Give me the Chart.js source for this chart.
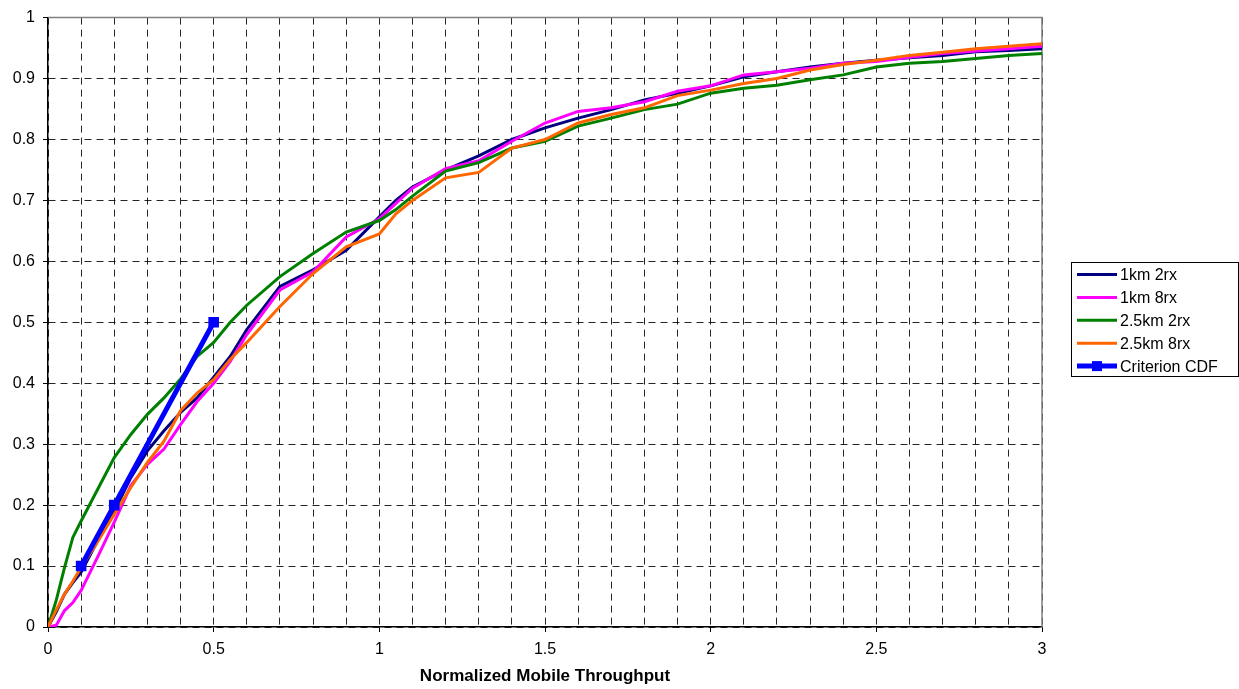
<!DOCTYPE html>
<html>
<head>
<meta charset="utf-8">
<script src="https://cdn.jsdelivr.net/npm/chart.js@4.4.1/dist/chart.umd.min.js"></script>
<style>
    html, body { margin: 0; padding: 0; background: #fff; }
    #wrap { width: 1239px; height: 689px; position: relative; }
</style>
</head>
<body>
<div id="wrap"><canvas id="cdfChart"></canvas></div>
<script>
// =======================
//  DATA
// =======================

// throughput values where the four measured curves were read
const throughput = [0, 0.025, 0.05, 0.075, 0.1, 0.15, 0.2, 0.25, 0.3, 0.35, 0.4, 0.45, 0.5, 0.55, 0.6,
    0.7, 0.8, 0.9, 1.0, 1.05, 1.1, 1.2, 1.3, 1.4, 1.5, 1.6, 1.7, 1.8, 1.9, 2.0,
    2.1, 2.2, 2.3, 2.4, 2.5, 2.6, 2.7, 2.8, 2.9, 3.0];

const cdf1km2rx = [0, 0.025, 0.054, 0.073, 0.09, 0.142, 0.19, 0.245, 0.289, 0.322, 0.352, 0.376, 0.41, 0.444, 0.488,
    0.559, 0.586, 0.618, 0.673, 0.70, 0.722, 0.75, 0.773, 0.80, 0.819, 0.835, 0.849, 0.865, 0.876, 0.888,
    0.903, 0.911, 0.919, 0.925, 0.930, 0.934, 0.938, 0.944, 0.946, 0.949];

const cdf1km8rx = [0, 0.003, 0.027, 0.04, 0.06, 0.115, 0.172, 0.232, 0.267, 0.292, 0.332, 0.37, 0.40, 0.436, 0.48,
    0.553, 0.583, 0.64, 0.67, 0.695, 0.72, 0.752, 0.765, 0.797, 0.827, 0.846, 0.852, 0.862, 0.879, 0.888,
    0.906, 0.911, 0.917, 0.925, 0.928, 0.935, 0.941, 0.945, 0.949, 0.953];

const cdf25km2rx = [0, 0.044, 0.098, 0.147, 0.174, 0.226, 0.278, 0.316, 0.349, 0.376, 0.407, 0.444, 0.467, 0.50, 0.528,
    0.575, 0.613, 0.648, 0.667, 0.685, 0.707, 0.748, 0.762, 0.786, 0.797, 0.822, 0.835, 0.849, 0.858, 0.876,
    0.884, 0.889, 0.898, 0.906, 0.919, 0.925, 0.928, 0.933, 0.938, 0.941];

const cdf25km8rx = [0, 0.028, 0.054, 0.075, 0.098, 0.14, 0.185, 0.229, 0.27, 0.305, 0.355, 0.384, 0.406, 0.439, 0.467,
    0.526, 0.58, 0.624, 0.645, 0.678, 0.70, 0.737, 0.746, 0.786, 0.80, 0.827, 0.841, 0.852, 0.872, 0.881,
    0.892, 0.900, 0.914, 0.923, 0.930, 0.938, 0.943, 0.949, 0.953, 0.957];

// criterion points (squares)
const criterionX = [0.1, 0.2, 0.5];
const criterionY = [0.1, 0.2, 0.5];

const seriesNames = ["1km 2rx", "1km 8rx", "2.5km 2rx", "2.5km 8rx", "Criterion CDF"];
const seriesColors = ["#000080", "#ff00ff", "#008000", "#ff6600", "#0000ff"];

// labelled x ticks (grid every 0.1)
const xTickLabels = ["0", "0.5", "1", "1.5", "2", "2.5", "3"];
const yTickLabels = ["0", "0.1", "0.2", "0.3", "0.4", "0.5", "0.6", "0.7", "0.8", "0.9", "1"];

const FONT = "'Liberation Sans', Arial, sans-serif";

function toPoints(xs, ys) {
    return xs.map((x, i) => ({ x: x, y: ys[i] }));
}

function isMajorX(v) {
    return xTickLabels.includes(String(Math.round(v * 10) / 10));
}

// ===================================================
// legend with a box, right side
// ===================================================
const legendBox = {
    id: "legendBox",
    afterDraw(chart) {
        const ctx = chart.ctx;
        const left = 1071.5, top = 262.5;
        ctx.save();
        ctx.fillStyle = "#fff";
        ctx.fillRect(left, top, 167, 114);
        ctx.strokeStyle = "#000";
        ctx.lineWidth = 1;
        ctx.strokeRect(left, top, 167, 114);
        ctx.font = "16px " + FONT;
        ctx.textBaseline = "middle";
        chart.data.datasets.forEach((ds, i) => {
            const y = top + 12 + i * 22.9;
            ctx.strokeStyle = ds.borderColor;
            ctx.lineWidth = ds.borderWidth;
            ctx.beginPath();
            ctx.moveTo(1077, y);
            ctx.lineTo(1117, y);
            ctx.stroke();
            if (ds.pointRadius > 0) {
                ctx.fillStyle = ds.borderColor;
                ctx.fillRect(1092, y - 5, 10, 10);
            }
            ctx.fillStyle = "#000";
            ctx.fillText(seriesNames[i], 1120, y + 1);
        });
        ctx.restore();
    }
};

// grey top / right frame of the plot area
const plotFrame = {
    id: "plotFrame",
    beforeDatasetsDraw(chart) {
        const { ctx, chartArea: a } = chart;
        ctx.save();
        ctx.strokeStyle = "#808080";
        ctx.lineWidth = 1.5;
        ctx.beginPath();
        ctx.moveTo(a.left, a.top);
        ctx.lineTo(a.right, a.top);
        ctx.lineTo(a.right, a.bottom);
        ctx.stroke();
        ctx.restore();
    }
};

// ===================================================
// LINE CHART — CDF
// ===================================================
const cdfChart = new Chart(document.getElementById("cdfChart"), {
    type: "line",
    data: {
        datasets: [
            { data: toPoints(throughput, cdf1km2rx), borderColor: seriesColors[0], borderWidth: 3, pointRadius: 0, order: 4 },
            { data: toPoints(throughput, cdf1km8rx), borderColor: seriesColors[1], borderWidth: 3, pointRadius: 0, order: 3 },
            { data: toPoints(throughput, cdf25km2rx), borderColor: seriesColors[2], borderWidth: 3, pointRadius: 0, order: 2 },
            { data: toPoints(throughput, cdf25km8rx), borderColor: seriesColors[3], borderWidth: 3, pointRadius: 0, order: 1 },
            {
                data: toPoints(criterionX, criterionY),
                borderColor: seriesColors[4],
                backgroundColor: seriesColors[4],
                borderWidth: 5,
                pointStyle: "rect",
                pointRadius: 7.5,
                pointBorderWidth: 0,
                pointBackgroundColor: seriesColors[4],
                order: 0
            }
        ]
    },
    options: {
        responsive: true,
        maintainAspectRatio: false,
        animation: false,
        devicePixelRatio: 1,
        layout: { padding: { left: 0, right: 197, top: 12, bottom: 0 } },
        elements: { line: { tension: 0 } },
        plugins: {
            legend: { display: false },
            tooltip: { enabled: false }
        },
        scales: {
            x: {
                type: "linear",
                min: 0,
                max: 3,
                afterFit: (s) => { s.height = 62; },
                ticks: {
                    stepSize: 0.1,
                    autoSkip: false,
                    maxRotation: 0,
                    padding: 8,
                    color: "#000",
                    font: { family: FONT, size: 16 },
                    callback: (v) => isMajorX(v) ? String(Math.round(v * 10) / 10) : ""
                },
                grid: {
                    color: "rgba(0,0,0,0.85)",
                    lineWidth: 1,
                    tickLength: 5,
                    tickColor: (c) => (c.tick && isMajorX(c.tick.value)) ? "#000" : "rgba(0,0,0,0)"
                },
                border: { color: "#000", width: 1.5, dash: [7, 5] },
                title: {
                    display: true,
                    text: "Normalized Mobile Throughput",
                    color: "#000",
                    font: { family: FONT, size: 17, weight: "bold" },
                    padding: { top: 0, bottom: 2 }
                }
            },
            y: {
                min: 0,
                max: 1,
                afterFit: (s) => { s.width = 48; },
                ticks: {
                    stepSize: 0.1,
                    padding: 8,
                    color: "#000",
                    font: { family: FONT, size: 16 },
                    callback: (v) => yTickLabels[Math.round(v * 10)]
                },
                grid: {
                    color: "rgba(0,0,0,0.85)",
                    lineWidth: 1,
                    tickLength: 5,
                    tickColor: "#000"
                },
                border: { color: "#000", width: 1.5, dash: [7, 5] }
            }
        }
    },
    plugins: [plotFrame, legendBox]
});
</script>
</body>
</html>
